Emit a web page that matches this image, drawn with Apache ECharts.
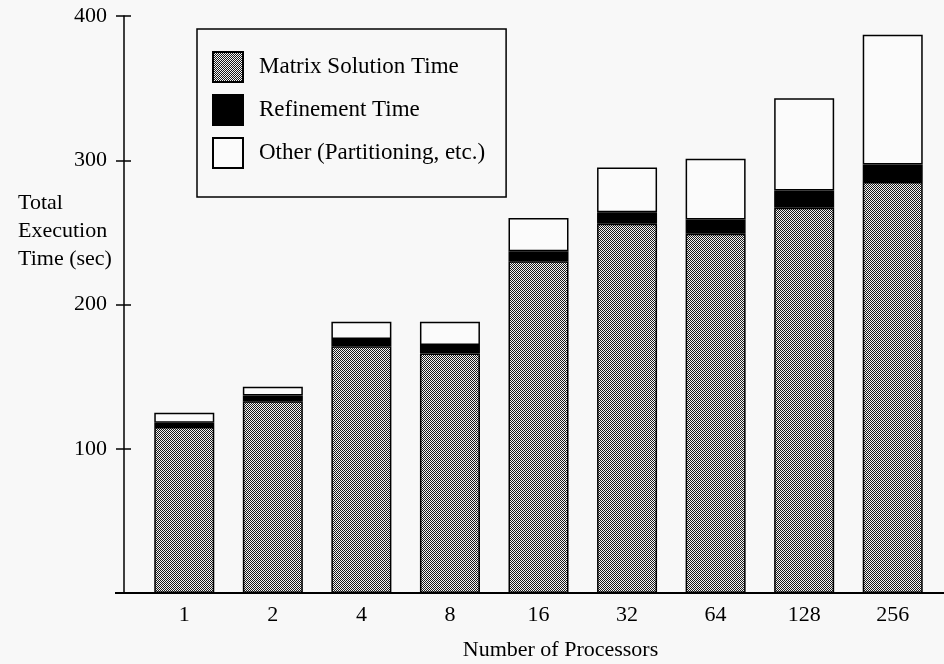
<!DOCTYPE html>
<html><head><meta charset="utf-8">
<script src="https://cdn.jsdelivr.net/npm/echarts@6/dist/echarts.min.js"></script>
<style>html,body{margin:0;padding:0;background:#f8f8f8;}#c{width:944px;height:664px;}</style>
</head><body><div id="c"></div>
<script>
const categories = ['1','2','4','8','16','32','64','128','256'];
const matrixTime = [115,133,171,166,230,256,249,267,285];
const refineTime = [3,4,5,6,7,8,10,12,12];
const otherTime = [7,6,12,16,23,31,42,64,90];
const yTicks = [0,100,200,300,400];

const FONT = "'Liberation Serif','DejaVu Serif',serif";
// dithered grey pattern
const cv = document.createElement('canvas');
cv.width = 4; cv.height = 4;
const cx = cv.getContext('2d');
cx.fillStyle = '#f4f4f4'; cx.fillRect(0,0,4,4);
cx.fillStyle = '#1a1a1a';
[[0,0],[2,0],[1,1],[3,1],[0,2],[2,2],[1,3],[3,3]].forEach(p=>cx.fillRect(p[0],p[1],1,1));
const pattern = {image: cv, repeat: 'repeat'};

const chart = echarts.init(document.getElementById('c'), null, {renderer:'canvas'});
const yBase = {
  type:'value', min: yTicks[0], max: yTicks[yTicks.length-1], interval: 100,
  offset: 16, splitLine:{show:false}
};
chart.setOption({
  backgroundColor:'#f8f8f8',
  animation:false,
  textStyle:{fontFamily:FONT, color:'#000'},
  title:{text:'Total\nExecution\nTime (sec)', left:13, top:184,
    textStyle:{fontFamily:FONT, fontSize:22, fontWeight:'normal', lineHeight:28, color:'#000'}},
  legend:{
    orient:'vertical', left:197, top:29,
    padding:[22,21,28,15], itemGap:11, itemWidth:30, itemHeight:30, icon:'rect',
    borderColor:'#000', borderWidth:1.5, backgroundColor:'#f8f8f8',
    textStyle:{fontFamily:FONT, fontSize:23, color:'#000', padding:[0,0,0,11]},
    data:['Matrix Solution Time','Refinement Time','Other (Partitioning, etc.)']
  },
  grid:{left:140, right:7, top:16, bottom:71, outerBoundsMode:'none', containLabel:false},
  xAxis:{
    type:'category', data:categories,
    axisLine:{lineStyle:{color:'#000', width:2}},
    axisTick:{show:false},
    axisLabel:{fontFamily:FONT, fontSize:22, color:'#000', margin:11},
    name:'Number of Processors', nameLocation:'middle', nameGap:46,
    nameTextStyle:{fontFamily:FONT, fontSize:22, color:'#000', padding:[0,0,0,44]}
  },
  yAxis:[
    Object.assign({}, yBase, {
      axisLine:{show:true, lineStyle:{color:'#000', width:1.5}},
      axisTick:{show:true, length:8, lineStyle:{color:'#000', width:1.5}},
      axisLabel:{fontFamily:FONT, fontSize:22, color:'#000', margin:17,
        formatter:v=> v===0 ? '' : String(v)}
    }),
    Object.assign({}, yBase, {
      position:'left',
      axisLine:{show:false},
      axisTick:{show:true, inside:true, length:7, lineStyle:{color:'#000', width:1.5}},
      axisLabel:{show:false}
    })
  ],
  graphic:[{type:'line', shape:{x1:115, y1:593, x2:944, y2:593}, style:{stroke:'#000', lineWidth:2}, z:10}],
  series:[
    {name:'Matrix Solution Time', type:'bar', stack:'t', data:matrixTime, barWidth:60,
      itemStyle:{color:pattern, borderColor:'#000', borderWidth:1.5}},
    {name:'Refinement Time', type:'bar', stack:'t', data:refineTime, barWidth:60,
      itemStyle:{color:'#000', borderColor:'#000', borderWidth:1.5}},
    {name:'Other (Partitioning, etc.)', type:'bar', stack:'t', data:otherTime, barWidth:60,
      itemStyle:{color:'#fbfbfb', borderColor:'#000', borderWidth:1.5}}
  ]
});
</script></body></html>
